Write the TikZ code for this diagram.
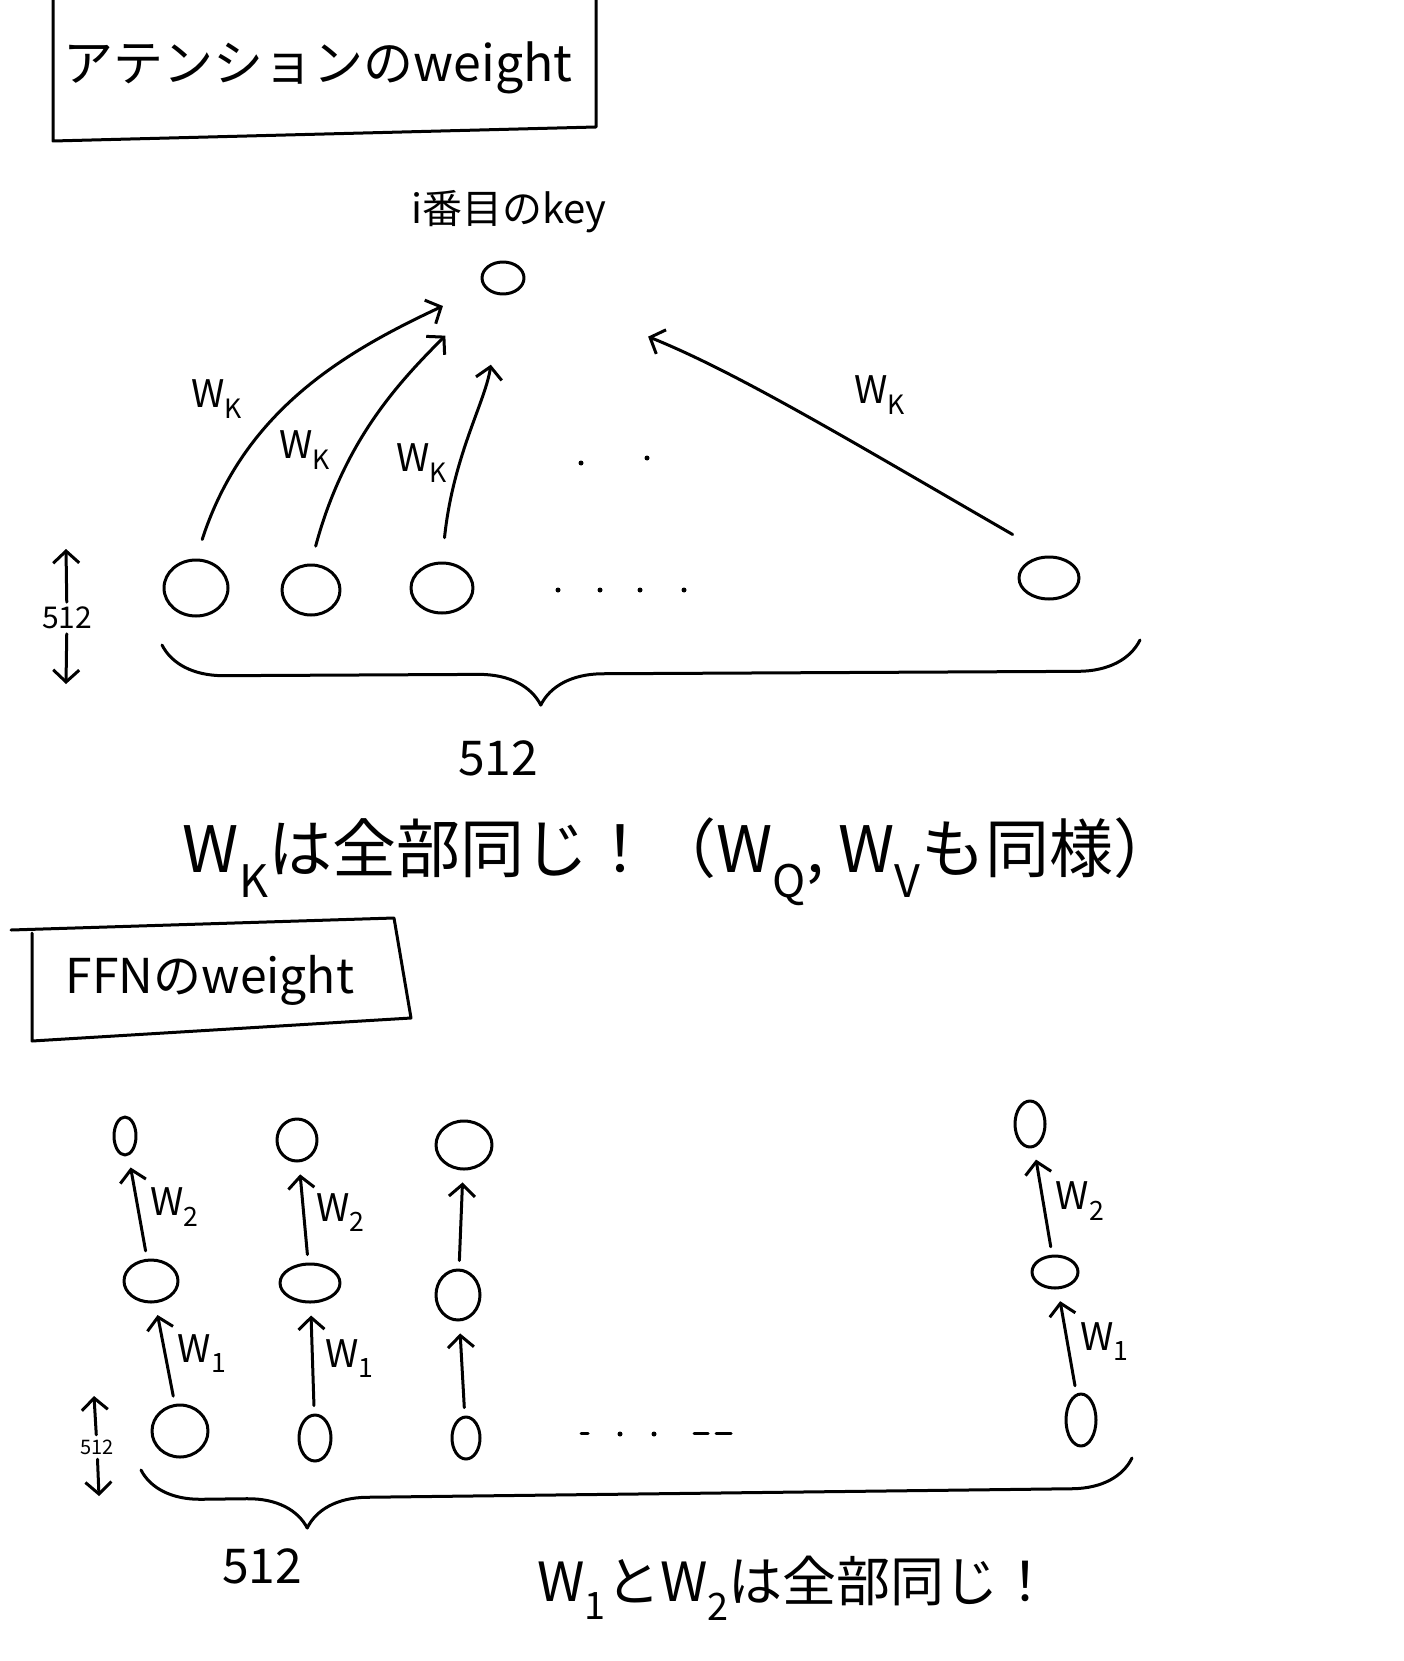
\documentclass[tikz,border=0pt]{standalone}
\usepackage{fontspec}
\setmainfont{Noto Sans CJK JP}
\usetikzlibrary{shapes.geometric,arrows.meta,decorations.pathreplacing}

\newcommand{\wsub}[1]{W\textsubscript{#1}}

\tikzset{
	unit/.style={draw, ellipse, inner sep=0pt, line width=3pt},
	wire/.style={line width=3pt, -{Straight Barb[length=12pt,width=26pt,line width=3pt]}},
	wlabel/.style={font=\fontsize{38}{44}\selectfont},
	dimbrace/.style={decorate, line width=3pt, decoration={brace, mirror, amplitude=#1}}
}

\begin{document}
\begin{tikzpicture}[x=1pt, y=-1pt, line width=3pt, line cap=round, line join=round]
	\useasboundingbox (0,0) rectangle (1404,1661);

	% attention
	\begin{scope}
	\draw (53,0) -- (53,141) -- (596,127) -- (596,0);
	\node[font=\fontsize{50}{60}\selectfont] (attTitle) at (318,68) {アテンションのweight};

	\node[font=\fontsize{40}{48}\selectfont] (keyLabel) at (509,212) {i番目のkey};
	\node[unit, minimum width=42pt, minimum height=32pt] (key) at (503,278) {};

	\node[unit, minimum width=64pt, minimum height=56pt] (a1) at (196,588) {};
	\node[unit, minimum width=58pt, minimum height=50pt] (a2) at (311,590) {};
	\node[unit, minimum width=62pt, minimum height=50pt] (a3) at (442,588) {};
	\node[unit, minimum width=60pt, minimum height=42pt] (a4) at (1049,578) {};

	\draw[wire, shorten <=20pt, shorten >=45pt] (a1.north) to[out=72, in=205] (key);
	\draw[wire, shorten <=18pt, shorten >=62pt] (a2.north) to[out=75, in=225] (key);
	\draw[wire, shorten <=24pt, shorten >=70pt] (a3.north) to[out=84, in=262] (key);
	\draw[wire, shorten <=42pt, shorten >=135pt] (a4.north) to[out=150, in=-22] (key);

	\node[wlabel] (wk1) at (217,399) {\wsub{K}};
	\node[wlabel] (wk2) at (305,450) {\wsub{K}};
	\node[wlabel] (wk3) at (422,463) {\wsub{K}};
	\node[wlabel] (wk4) at (880,395) {\wsub{K}};

	\fill (581,463) circle (2.5pt);
	\fill (647,458) circle (2.5pt);
	\foreach \x in {558,600,640,684}
		\fill (\x,590) circle (2.5pt);

	\draw[dimbrace=62pt, decoration={aspect=0.387}] (162,645) -- (1140,640);
	\node[font=\fontsize{48}{56}\selectfont] (attWidth) at (498,758) {512};

	\node[font=\fontsize{30}{36}\selectfont] (attDim) at (67,618) {512};
	\coordinate (attUp) at (66,549);
	\coordinate (attDown) at (66,684);
	\draw[wire] (attDim) -- (attUp);
	\draw[wire] (attDim) -- (attDown);

	\node[font=\fontsize{64}{74}\selectfont] (attNote) at (680,862) {\wsub{K}は全部同じ！（\wsub{Q}, \wsub{V}も同様）};
	\end{scope}

	% FFN
	\begin{scope}
	\draw (11,930) -- (394,918) -- (411,1018) -- (32,1041) -- (32,933);
	\node[font=\fontsize{48}{56}\selectfont] (ffnTitle) at (210,980) {FFNのweight};

	\node[unit, minimum width=22pt, minimum height=38pt] (t1) at (125,1136) {};
	\node[unit, minimum width=54pt, minimum height=42pt] (m1) at (151,1281) {};
	\node[unit, minimum width=56pt, minimum height=52pt] (b1) at (180,1431) {};

	\node[unit, minimum width=40pt, minimum height=42pt] (t2) at (297,1140) {};
	\node[unit, minimum width=60pt, minimum height=38pt] (m2) at (310,1283) {};
	\node[unit, minimum width=32pt, minimum height=46pt] (b2) at (315,1438) {};

	\node[unit, minimum width=56pt, minimum height=48pt] (t3) at (464,1145) {};
	\node[unit, minimum width=44pt, minimum height=50pt] (m3) at (458,1295) {};
	\node[unit, minimum width=28pt, minimum height=42pt] (b3) at (466,1438) {};

	\node[unit, minimum width=30pt, minimum height=46pt] (t4) at (1030,1124) {};
	\node[unit, minimum width=46pt, minimum height=32pt] (m4) at (1055,1272) {};
	\node[unit, minimum width=30pt, minimum height=52pt] (b4) at (1081,1420) {};

	\draw[wire, shorten <=8pt, shorten >=12pt] (m1) -- (t1) node[wlabel, midway, right=8pt] (w2a) {\wsub{2}};
	\draw[wire, shorten <=8pt, shorten >=12pt] (b1) -- (m1) node[wlabel, midway, right=8pt] (w1a) {\wsub{1}};
	\draw[wire, shorten <=8pt, shorten >=12pt] (m2) -- (t2) node[wlabel, midway, right=8pt] (w2b) {\wsub{2}};
	\draw[wire, shorten <=8pt, shorten >=12pt] (b2) -- (m2) node[wlabel, midway, right=8pt] (w1b) {\wsub{1}};
	\draw[wire, shorten <=8pt, shorten >=12pt] (m3) -- (t3);
	\draw[wire, shorten <=8pt, shorten >=12pt] (b3) -- (m3);
	\draw[wire, shorten <=8pt, shorten >=12pt] (m4) -- (t4) node[wlabel, midway, right=8pt] (w2d) {\wsub{2}};
	\draw[wire, shorten <=8pt, shorten >=12pt] (b4) -- (m4) node[wlabel, midway, right=8pt] (w1d) {\wsub{1}};

	\draw (581,1433) -- (588,1433);
	\fill (620,1434) circle (2.5pt);
	\fill (654,1434) circle (2.5pt);
	\draw (694,1433) -- (708,1433);
	\draw (716,1433) -- (731,1433);

	\draw[dimbrace=60pt, decoration={aspect=0.167}] (141,1470) -- (1132,1458);
	\node[font=\fontsize{48}{56}\selectfont] (ffnWidth) at (262,1566) {512};

	\node[font=\fontsize{20}{24}\selectfont] (ffnDim) at (97,1447) {512};
	\coordinate (ffnUp) at (94,1396);
	\coordinate (ffnDown) at (99,1496);
	\draw[wire] (ffnDim) -- (ffnUp);
	\draw[wire] (ffnDim) -- (ffnDown);

	\node[font=\fontsize{54}{62}\selectfont] (ffnNote) at (795,1588) {\wsub{1}と\wsub{2}は全部同じ！};
	\end{scope}

\end{tikzpicture}
\end{document}
